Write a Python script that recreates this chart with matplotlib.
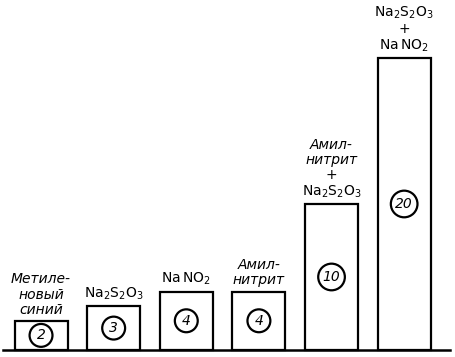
import matplotlib.pyplot as plt
import numpy as np

# подписи над столбиками и значения
labels = ['Метиле-\nновый\nсиний',
          r'$\mathrm{Na_2S_2O_3}$',
          r'$\mathrm{Na\,NO_2}$',
          'Амил-\nнитрит',
          'Амил-\nнитрит\n+\n' + r'$\mathrm{Na_2S_2O_3}$',
          r'$\mathrm{Na_2S_2O_3}$' + '\n+\n' + r'$\mathrm{Na\,NO_2}$']
values = [2, 3, 4, 4, 10, 20]

plt.rcParams['mathtext.fontset'] = 'dejavusans'

fig = plt.figure(figsize=(4.55, 3.57), dpi=100)
ax = fig.add_axes([0, 0, 1, 1])

x = np.arange(len(values))
ax.bar(x, values, width=0.73, color='white', edgecolor='black', linewidth=1.6, zorder=2)

# базовая линия
ax.axhline(0, xmin=0.006, xmax=0.99, color='black', linewidth=1.8, zorder=3)

for xi, v, lab in zip(x, values, labels):
    # номер в кружке посередине столбика
    ax.text(xi, v / 2, str(v), ha='center', va='center', fontsize=10,
            style='italic',
            bbox=dict(boxstyle='circle,pad=0.32', fc='white', ec='black', lw=1.6),
            zorder=4)
    ax.annotate(lab, (xi, v), xytext=(0, 3), textcoords='offset points',
                ha='center', va='bottom', fontsize=10, style='italic',
                linespacing=1.1, multialignment='center')

ax.set_xlim(-0.565, 5.70)
ax.set_ylim(-0.48, 23.97)
ax.axis('off')

fig.savefig('out.png', dpi=100)
